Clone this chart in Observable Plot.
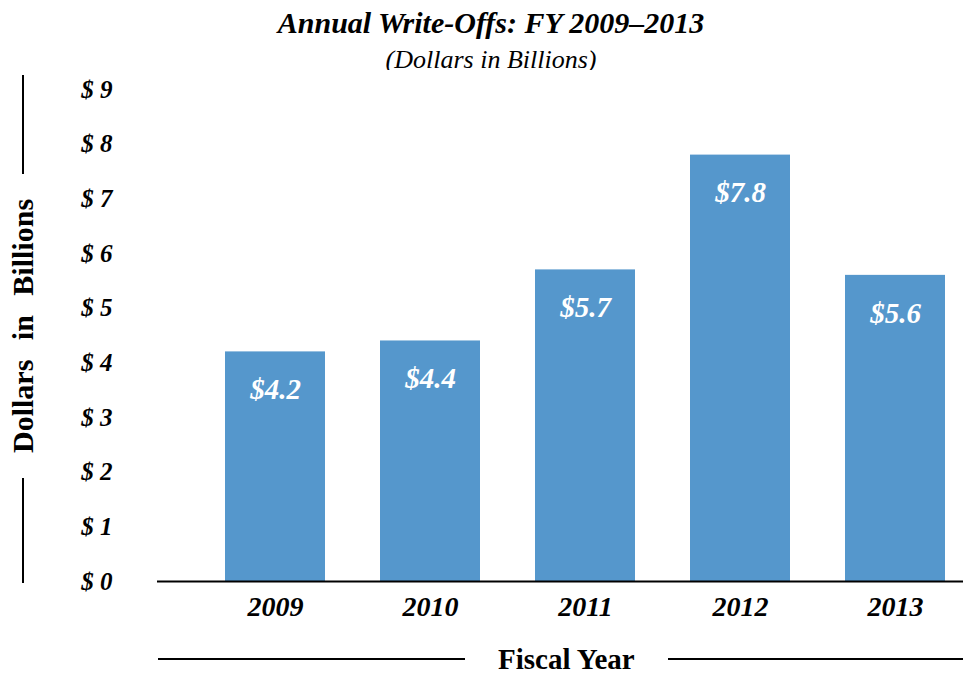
<!DOCTYPE html>
<html>
<head>
<meta charset="utf-8">
<script src="https://cdn.jsdelivr.net/npm/d3@7"></script>
<script src="https://cdn.jsdelivr.net/npm/@observablehq/plot@0.6"></script>
<style>
  html, body { margin: 0; padding: 0; background: #fff; }
  body { font-family: "Liberation Serif", "Times New Roman", serif; color: #000; }
  #wrap { position: relative; width: 963px; height: 673px; overflow: hidden; }
  #title { position: absolute; left: 19px; top: 6px; width: 944px; text-align: center; }
  #title .t { font-size: 30px; font-weight: bold; font-style: italic; line-height: 34px; }
  #title .s { font-size: 26px; font-style: italic; line-height: 30px; margin-top: 5px; }
  #chart { position: absolute; left: 0; top: 70px; }
  #ytitle { position: absolute; width: 508px; height: 36px; left: -231px; top: 311px;
            transform: rotate(-90deg); display: flex; align-items: center; }
  #ytitle .ln { height: 2px; background: #000; }
  #ytitle .tx { font-size: 30px; font-weight: bold; word-spacing: 12px; white-space: nowrap; margin: 0 25px; }
  #xtitle { position: absolute; left: 158px; top: 642px; width: 805px; height: 34px;
            display: flex; align-items: center; }
  #xtitle .ln { height: 2px; background: #000; }
  #xtitle .tx { font-size: 29px; font-weight: bold; white-space: nowrap; margin: 0 33px; }
</style>
</head>
<body>
<div id="wrap">
  <div id="title">
    <div class="t">Annual Write-Offs: FY 2009–2013</div>
    <div class="s">(Dollars in Billions)</div>
  </div>
  <div id="chart"></div>
  <div id="ytitle"><div class="ln" style="width:105px"></div><div class="tx">Dollars in Billions</div><div class="ln" style="flex:1"></div></div>
  <div id="xtitle"><div class="ln" style="width:307px"></div><div class="tx">Fiscal Year</div><div class="ln" style="flex:1"></div></div>
</div>
<script>
const years = ["2009", "2010", "2011", "2012", "2013"];
const values = [4.2, 4.4, 5.7, 7.8, 5.6];
const yTicks = [0, 1, 2, 3, 4, 5, 6, 7, 8, 9];

const data = years.map((y, i) => ({year: y, value: values[i]}));
const serif = "Liberation Serif, Times New Roman, serif";

const chart = Plot.plot({
  width: 963,
  height: 560,
  marginLeft: 157,
  marginRight: 0,
  marginTop: 19,
  marginBottom: 49,
  style: {fontFamily: serif, background: "#fff", color: "#000", overflow: "visible"},
  x: {domain: years, range: [224, 946], paddingInner: 0.355, paddingOuter: 0},
  y: {domain: [0, 9]},
  marks: [
    Plot.barY(data, {x: "year", y: "value", fill: "#5597cc"}),
    Plot.text(data, {x: "year", y: "value", text: d => "$" + d.value.toFixed(1),
      dy: 38, fill: "#fff", fontSize: 29, fontWeight: "bold", fontStyle: "italic"}),
    Plot.ruleY([0], {stroke: "#000", strokeWidth: 2}),
    Plot.axisY({ticks: yTicks, tickSize: 0, tickPadding: 45, label: null,
      tickFormat: d => "$ " + d, fontSize: 25, fontWeight: "bold", fontStyle: "italic"}),
    Plot.axisX({tickSize: 0, tickPadding: 15, label: null,
      fontSize: 28, fontWeight: "bold", fontStyle: "italic"})
  ]
});
document.getElementById("chart").appendChild(chart);
</script>
</body>
</html>
